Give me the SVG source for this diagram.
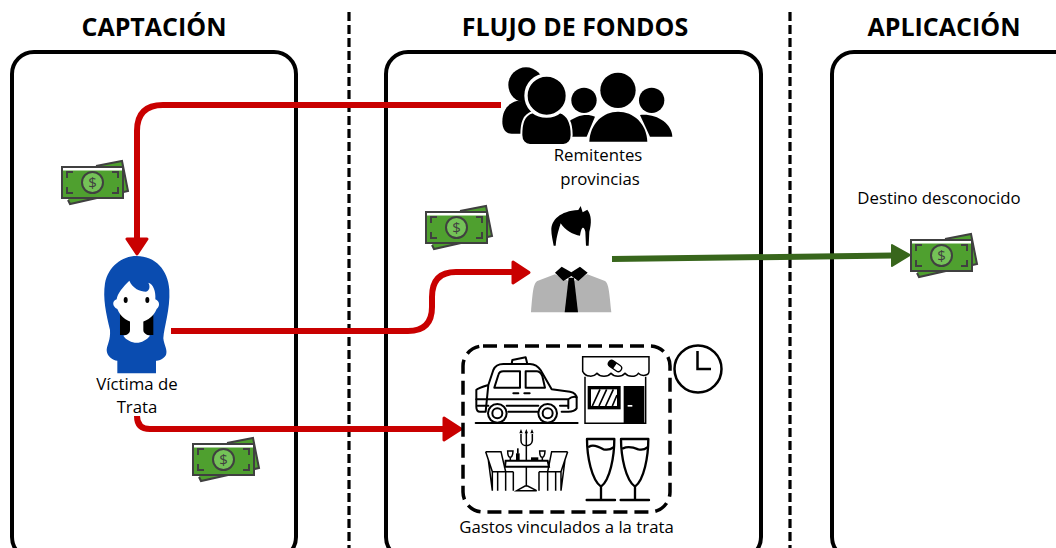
<svg xmlns="http://www.w3.org/2000/svg" xmlns:xlink="http://www.w3.org/1999/xlink" width="1056" height="548" viewBox="0 0 1056 548">
<style>
text{font-family:"Open Sans","DejaVu Sans",sans-serif;fill:#000}
.title{font-size:25px;font-weight:700;text-anchor:middle}
.label{font-size:16.800px;text-anchor:middle}
.panel{fill:none;stroke:#000;stroke-width:4}
.divider{fill:none;stroke:#000;stroke-width:3.200;stroke-dasharray:9 4}
.red{fill:none;stroke:#c90000;stroke-width:6}
.green{fill:none;stroke:#38661c;stroke-width:6}
.ln{fill:none;stroke:#000;stroke-width:6;stroke-linecap:round;stroke-linejoin:round}
.thin{fill:none;stroke:#000;stroke-width:4.500}
</style>
<defs>
<g id="money">
<path d="M6 33 L8 37 L66 24 L60 -6 L34 -1" fill="#4fa02f" stroke="#404040" stroke-width="2"/>
<rect x="0" y="0" width="61" height="31" fill="#4fa02f" stroke="#404040" stroke-width="2"/>
<rect x="1" y="1" width="59" height="2.500" fill="#fff"/>
<circle cx="30.500" cy="15.500" r="10.500" fill="#74c257" stroke="#404040" stroke-width="2"/>
<text x="30.500" y="21" font-size="15" text-anchor="middle" style="fill:#404040">$</text>
<path d="M5 11 V5 H11 M56 11 V5 H50 M5 20 V26 H11 M56 20 V26 H50" fill="none" stroke="#404040" stroke-width="2"/>
</g>
</defs>

<g id="panels">
<rect class="panel" x="12" y="52" width="284" height="507" rx="22"/>
<rect class="panel" x="386" y="52" width="375" height="507" rx="22"/>
<rect class="panel" x="832" y="52" width="300" height="507" rx="22"/>
<path class="divider" d="M349 12 V548"/>
<path class="divider" d="M790 12 V548"/>
</g>

<g id="titles">
<text class="title" x="154" y="36">CAPTACIÓN</text>
<text class="title" x="575" y="36">FLUJO DE FONDOS</text>
<text class="title" x="944" y="36">APLICACIÓN</text>
</g>

<g id="connectors">
<path class="red" d="M501 105 H163 Q137 105 137 131 V240" />
<path d="M127 239 H147 L137 254 Z" fill="#c90000" stroke="#c90000" stroke-width="3" stroke-linejoin="round"/>
<path class="red" d="M171 331 H408 Q432 331 432 307 V297 Q432 272 456 272 H514"/>
<path d="M513 262 L529 272.500 L513 283 Z" fill="#c90000" stroke="#c90000" stroke-width="3" stroke-linejoin="round"/>
<path class="red" d="M137 416 Q137 429 150 429 H445"/>
<path d="M444 418 L461 429 L444 440 Z" fill="#c90000" stroke="#c90000" stroke-width="3" stroke-linejoin="round"/>
<path class="green" d="M612 259 L893 255.500"/>
<path d="M892 245 L910 255 L892 266 Z" fill="#38661c" stroke="#38661c" stroke-width="2" stroke-linejoin="round"/>
</g>

<g id="money-1"><use xlink:href="#money" href="#money" x="62" y="167"/></g>
<g id="money-2"><use xlink:href="#money" href="#money" x="426" y="212"/></g>
<g id="money-3"><use xlink:href="#money" href="#money" x="193" y="444"/></g>
<g id="money-4"><use xlink:href="#money" href="#money" x="911" y="240"/></g>

<g id="victima">
<g transform="translate(90 240) scale(.3333)">
<path d="M140 48 C195 48 235 90 238 150 C241 210 222 260 220 295 C222 315 234 330 228 345 C218 360 205 362 198 362 L198 400 L82 400 L82 362 C68 362 50 348 50 330 C52 312 62 300 60 270 C48 220 38 175 45 130 C55 80 95 48 140 48 Z" fill="#0a4cb0"/>
<path d="M90 215 H190 V285 H90 Z" fill="#000"/>
<path d="M118 122 C128 145 150 155 168 155 C178 152 182 140 175 128 C190 132 198 155 196 178 C208 182 212 198 200 207 C190 232 165 248 140 248 C115 248 92 232 82 207 C66 200 66 182 80 178 C82 160 100 140 118 122 Z" fill="#fff"/>
<path d="M120 240 H160 V270 C160 280 170 285 180 287 C170 300 155 308 140 308 C125 308 108 300 100 287 C112 285 120 280 120 270 Z" fill="#fff"/>
<ellipse cx="107" cy="180" rx="6" ry="9" fill="#000"/>
<ellipse cx="172" cy="180" rx="6" ry="9" fill="#000"/>
</g>
<text class="label" x="137" y="390">Víctima de</text>
<text class="label" x="137" y="413">Trata</text>
</g>

<g id="remitentes">
<g transform="translate(490 55) scale(.3333)">
<circle cx="108" cy="90" r="53" fill="#000"/>
<path d="M80 138 C55 145 37 165 37 200 C37 225 50 236 65 236 H100 L140 140 Z" fill="#000"/>
<path d="M230 205 C260 180 290 175 315 185 L290 245 H225 Z" fill="#000"/>
<circle cx="282" cy="136" r="38" fill="#000"/>
<path d="M450 180 C500 175 545 205 547 245 H480 Z" fill="#000"/>
<circle cx="485" cy="136" r="38" fill="#000"/>
<circle cx="170" cy="122" r="62" fill="#000" stroke="#fff" stroke-width="10"/>
<path d="M128 172 C100 180 94 205 94 240 C94 258 105 270 120 270 H220 C235 270 245 258 245 240 C245 205 235 180 210 172 C190 190 150 190 128 172 Z" fill="#000" stroke="#fff" stroke-width="6"/>
<circle cx="384" cy="106" r="53" fill="#000"/>
<path d="M298 260 C300 205 340 170 384 170 C430 170 470 205 472 260 Z" fill="#000"/>
</g>
<text class="label" x="598" y="161">Remitentes</text>
<text class="label" x="600" y="185">provincias</text>
</g>

<g id="persona">
<g transform="translate(510 195) scale(.3333)">
<path d="M124 105 C124 75 150 48 205 45 L212 33 L218 52 L232 44 C245 60 245 85 238 110 L236 152 L228 152 L226 110 C222 95 215 90 210 122 C190 120 165 105 152 85 C148 100 140 120 137 152 L131 152 C128 135 124 120 124 105 Z" fill="#000"/>
<path d="M135 238 L82 258 C70 265 68 290 63 352 H304 C298 290 296 265 285 258 L232 238 L184 262 Z" fill="#b3b3b3"/>
<path d="M135 233 L155 215 L184 232 L210 215 L233 233 L205 258 L184 243 L160 258 Z" fill="#000"/>
<path d="M176 248 H192 L204 352 H164 Z" fill="#000"/>
</g>
</g>

<g id="destino"><text class="label" x="939" y="204">Destino desconocido</text></g>

<g id="gastos">
<rect x="463" y="346" width="207" height="166" rx="20" fill="none" stroke="#000" stroke-width="3.500" stroke-dasharray="14 7"/>
<g id="taxi" transform="translate(455 340) scale(.3333)">
<path class="ln" d="M170 72 L172 60 L212 52 L217 72 Z"/>
<path class="ln" d="M100 135 L115 90 C120 78 130 72 145 72 H225 C240 72 250 80 258 92 L290 148 L345 155 C360 158 365 165 365 175 V205 C360 212 350 215 340 215 H320 M250 215 H160 M92 215 H75 C68 215 64 210 64 200 V150 Q68 145 100 135 Z"/>
<path class="ln" d="M118 143 L130 105 C132 97 138 94 145 94 H195 V143 Z M212 94 H245 C252 94 258 100 262 108 L270 143 H212 Z"/>
<path class="ln" d="M175 160 H190 M208 160 H224 M64 178 H340 M68 197 H100 M155 197 H250 M315 197 H340 M340 178 C350 170 360 170 365 172 M340 178 V205"/>
<circle class="ln" cx="127" cy="220" r="28" style="fill:#fff"/><circle class="ln" cx="127" cy="220" r="15"/>
<circle class="ln" cx="278" cy="220" r="28" style="fill:#fff"/><circle class="ln" cx="278" cy="220" r="15"/>
<path class="ln" d="M62 249 H368"/>
</g>
<g id="farmacia" transform="translate(575 340) scale(.3333)">
<path class="thin" d="M30 110 V250 H212 V110"/>
<path class="thin" d="M23 50 H222 V94 C222 108 200 110 190 100 C182 112 160 112 150 100 C140 112 118 112 108 100 C98 112 76 112 66 100 C56 112 32 112 23 94 Z"/>
<rect x="38" y="138" width="99" height="70" fill="#000"/>
<rect x="48" y="148" width="78" height="50" fill="#fff"/>
<path d="M52 198 L75 148 M72 198 L95 148 M92 198 L115 148 M112 198 L126 165" stroke="#000" stroke-width="5" fill="none"/>
<rect x="146" y="138" width="62" height="112" fill="#000"/>
<rect x="158" y="195" width="14" height="5" fill="#fff"/>
<g transform="rotate(35 120 78)"><rect x="98" y="68" width="44" height="20" rx="10" fill="#fff" stroke="#000" stroke-width="4"/><path d="M98 78 A10 10 0 0 1 108 68 H120 V88 H108 A10 10 0 0 1 98 78 Z" fill="#000"/></g>
</g>
<g id="mesa" transform="translate(455 420) scale(.3333)">
<path class="thin" d="M92 95 H138 L152 155 H175 M92 95 L112 155 V212 M112 155 H152 V212 M128 155 V212 M175 155 V212 M100 120 L112 212"/>
<path class="thin" d="M338 95 H290 L278 155 H252 M338 95 L318 155 V212 M318 155 H278 V212 M302 155 V212 M252 155 V212 M330 120 L318 212"/>
<path d="M152 122 H278 L282 140 H150 Z" fill="none" stroke="#000" stroke-width="6"/>
<path class="thin" d="M214 140 V200 M185 212 H245 L218 198 H210 Z"/>
<path class="thin" d="M198 42 V62 C198 82 230 82 232 62 V42 M214 38 V120"/>
<path d="M198 27 L203 40 H193 Z M214 27 L219 40 H209 Z M231 27 L236 40 H226 Z" fill="#000"/>
<path class="thin" d="M158 93 H174 C174 108 168 112 166 112 C162 112 158 106 158 93 Z M166 112 V122 M254 93 H270 C270 108 264 112 262 112 C258 112 254 106 254 93 Z M262 112 V122"/>
<rect x="183" y="100" width="11" height="22" fill="#000"/><rect x="186" y="85" width="5" height="16" fill="#000"/>
<rect x="228" y="112" width="22" height="8" fill="#000"/>
</g>
<g id="copas" transform="translate(575 420) scale(.3333)">
<path class="ln" style="stroke-width:7" d="M36 57 H118 C118 110 105 180 78 200 C50 180 36 110 36 57 Z M78 200 V238 M35 240 H120"/>
<path class="ln" style="stroke-width:7" d="M42 80 C55 72 75 82 85 88 C95 90 108 88 115 82"/>
<path class="ln" style="stroke-width:7" d="M138 57 H220 C220 110 207 180 180 200 C152 180 138 110 138 57 Z M180 200 V238 M137 240 H222"/>
<path class="ln" style="stroke-width:7" d="M144 85 C160 78 175 82 190 88 C200 90 210 88 217 82"/>
</g>
<text class="label" x="566.500" y="533">Gastos vinculados a la trata</text>
</g>

<g id="reloj">
<circle cx="698" cy="369" r="23.500" fill="none" stroke="#000" stroke-width="2.500"/>
<path d="M697.500 351 V369 H711" fill="none" stroke="#000" stroke-width="2.500"/>
</g>
</svg>
